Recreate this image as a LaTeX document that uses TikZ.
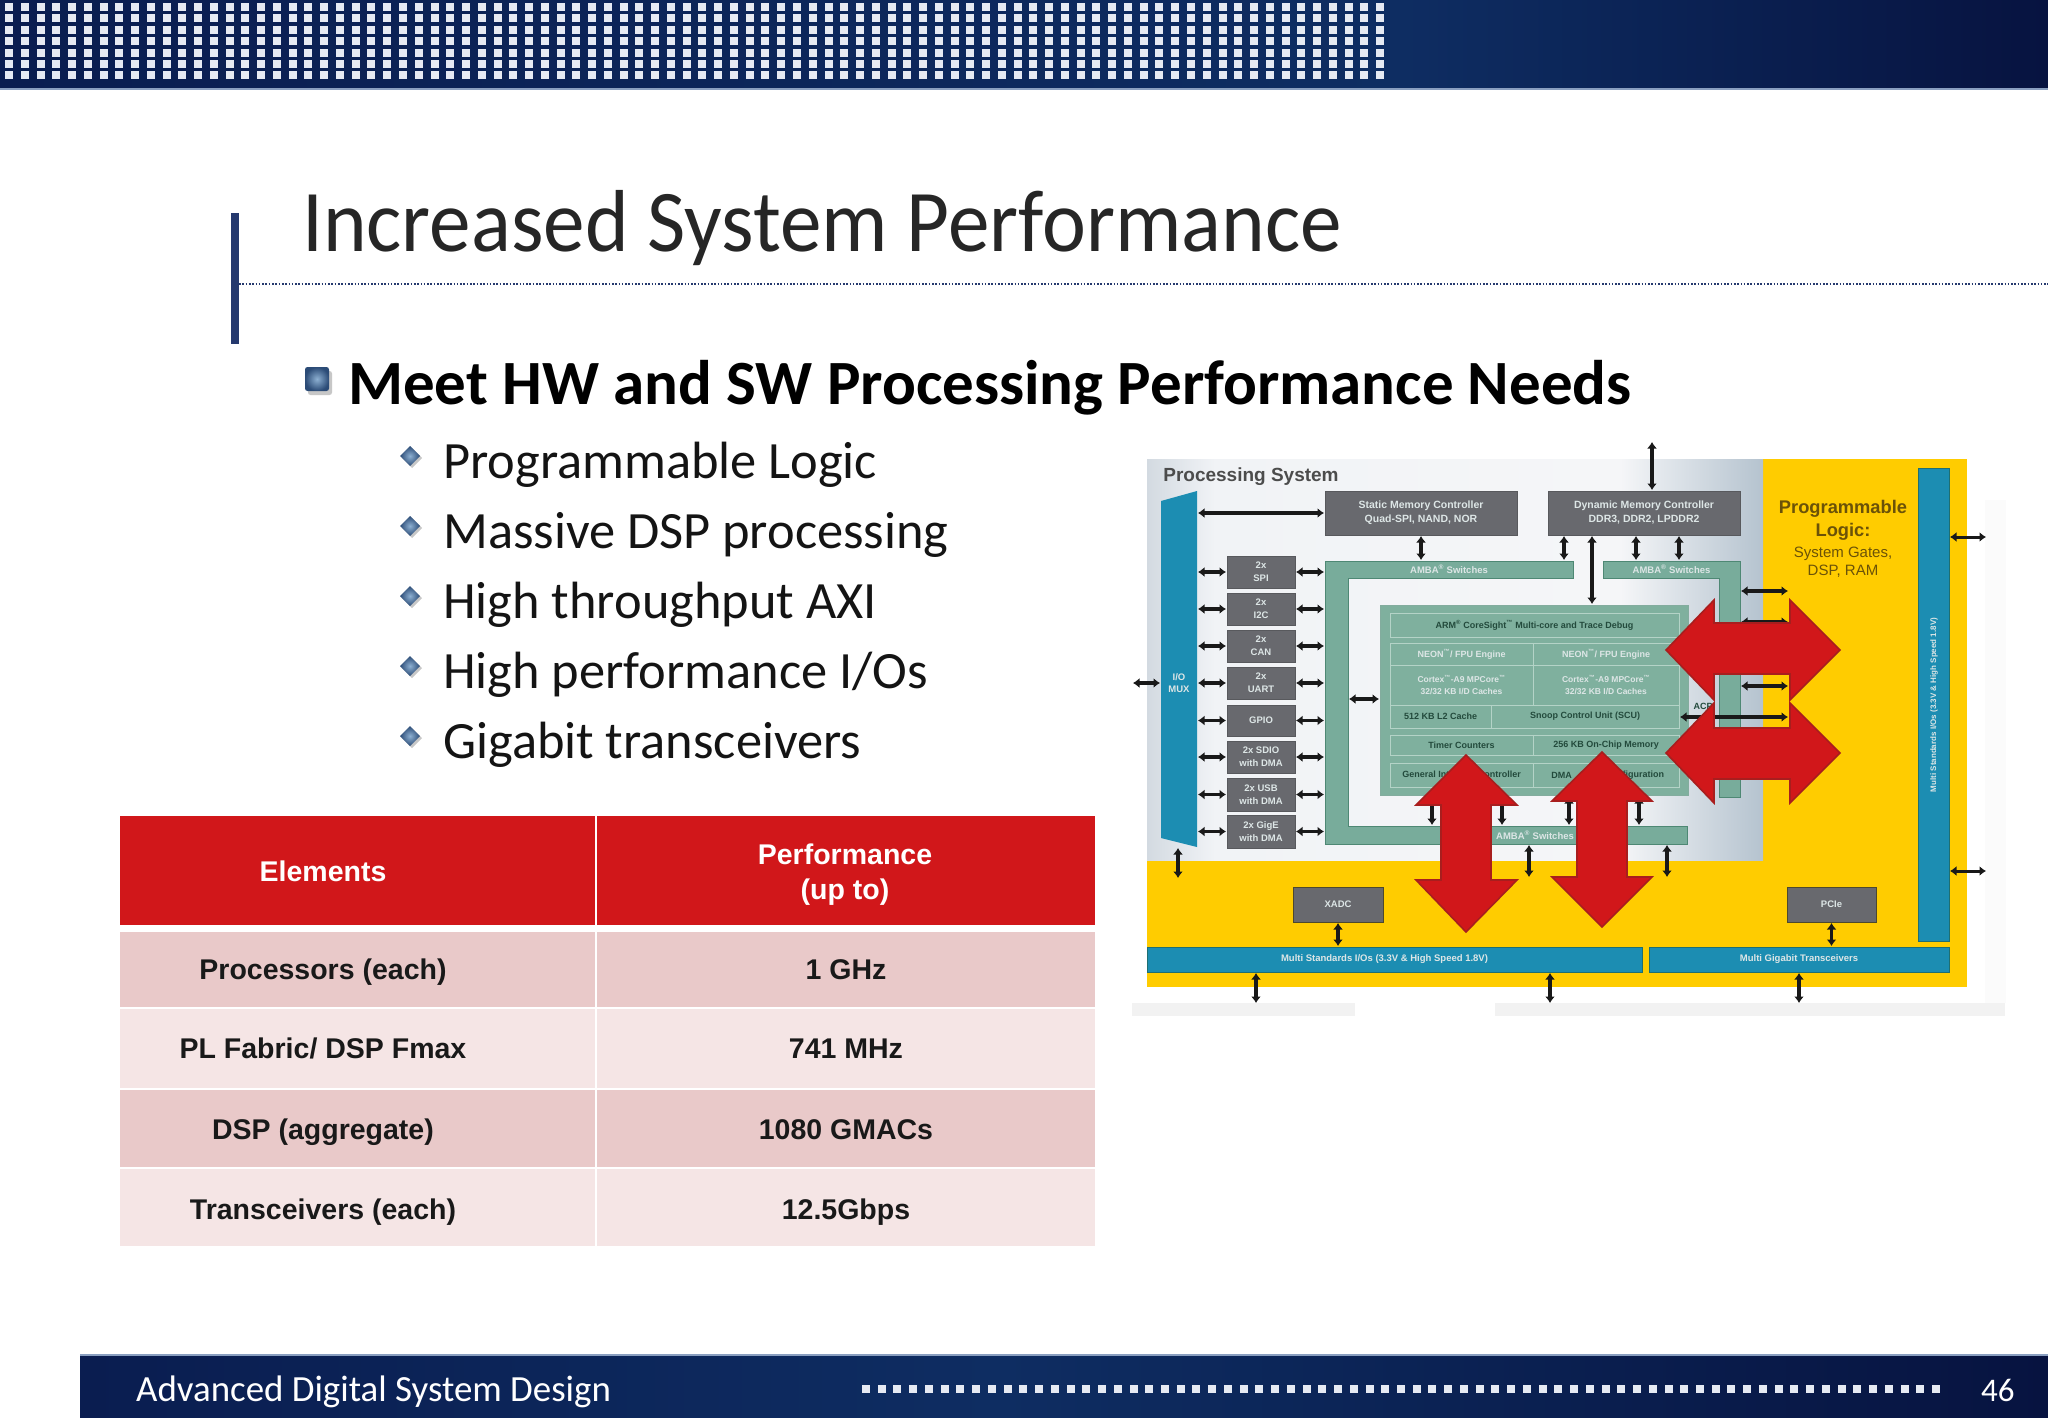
\documentclass[tikz,border=0pt]{standalone}
\usepackage{fontspec}
\setmainfont{Carlito}
\newfontfamily\libsans{Liberation Sans}
\newfontfamily\titlef[FakeStretch=0.945]{Carlito}
\usetikzlibrary{arrows.meta}
\definecolor{bandA}{HTML}{0A1D50}
\definecolor{bandB}{HTML}{0E2D62}
\definecolor{bandC}{HTML}{071340}
\definecolor{dotc}{HTML}{E6EAF3}
\definecolor{navy}{HTML}{25396E}
\definecolor{tred}{HTML}{D1171A}
\definecolor{rowA}{HTML}{E9C9C9}
\definecolor{rowB}{HTML}{F5E5E5}
\definecolor{gold}{HTML}{FFCC00}
\definecolor{teal}{HTML}{1C8DB2}
\definecolor{tealedge}{HTML}{1F6F72}
\definecolor{boxgrey}{HTML}{68696E}
\definecolor{frameg}{HTML}{78AC9B}
\definecolor{frameedge}{HTML}{4E8874}
\definecolor{cpug}{HTML}{7FB09E}
\definecolor{cpuline}{HTML}{B4D3C7}
\definecolor{softw}{HTML}{DDE6E6}
\definecolor{darkt}{HTML}{234A3C}
\definecolor{redge}{HTML}{A81E1E}
\definecolor{brownt}{HTML}{6B5208}
\definecolor{psedge}{HTML}{D3DAE1}
\definecolor{psmid}{HTML}{F1F3F6}
\definecolor{psmidb}{HTML}{F5F6F8}
\definecolor{psright}{HTML}{B5C3CF}
\definecolor{bulout}{HTML}{2B4B76}
\definecolor{bulin}{HTML}{8DB0D2}
\definecolor{bandline}{HTML}{8A9FC0}
\newcommand{\pxbox}[7]{%
  \pgfmathsetmacro{\pxw}{#4-#2}\pgfmathsetmacro{\pxh}{#5-#3}%
  \pgfmathsetmacro{\pxcx}{(#2+#4)/2}\pgfmathsetmacro{\pxcy}{(#3+#5)/2}%
  \node[#6,minimum width=\pxw pt,minimum height=\pxh pt] (#1) at (\pxcx,\pxcy) {#7};}
\newcommand{\fsz}[1]{\fontsize{#1}{#1}\selectfont}
\tikzset{
  bx/.style={inner sep=0pt,outer sep=0pt,align=center},
  greybox/.style={bx,fill=boxgrey,draw=boxgrey!85!black,line width=0.8pt,text=softw,font=\libsans\bfseries\fontsize{9.5}{13}\selectfont},
  tealbar/.style={bx,fill=teal,draw=tealedge,line width=1pt,text=softw,font=\libsans\bfseries\fontsize{9.5}{12}\selectfont},
  cpucell/.style={bx,fill=cpug,draw=cpuline,line width=1pt,font=\libsans\bfseries\fontsize{9}{11}\selectfont},
  cpulight/.style={cpucell,text=softw},
  cpudark/.style={cpucell,text=darkt},
  ghost/.style={bx},
  barr/.style={line width=3.6pt,black!90,{Latex[length=6.5pt,width=10pt]}-{Latex[length=6.5pt,width=10pt]},shorten >=1pt,shorten <=1pt},
  barrthin/.style={barr,line width=3pt},
  redarrow/.style={fill=tred,draw=redge,line width=1.6pt,line join=miter},
  thead/.style={bx,fill=tred,text=white,font=\libsans\bfseries\fontsize{28.5}{35}\selectfont},
  trowa/.style={bx,fill=rowA,text=black!90,font=\libsans\bfseries\fontsize{28.5}{35}\selectfont},
  trowb/.style={bx,fill=rowB,text=black!90,font=\libsans\bfseries\fontsize{28.5}{35}\selectfont},
  ctext/.style={inner sep=0pt,font=\libsans\bfseries\fontsize{28.5}{35}\selectfont,text=black!90},
  sublabel/.style={anchor=base west,inner sep=0pt,font=\fontsize{52.4}{60}\selectfont,text=black!92},
  pslabel/.style={inner sep=0pt,align=center}
}
\begin{document}
\begin{tikzpicture}[x=1pt,y=-1pt]
\useasboundingbox (0,0) rectangle (2048,1418);
\fill[white] (0,0) rectangle (2048,1418);

% top band
\shade[left color=bandA,right color=bandB] (0,0) rectangle (1400,88);
\shade[left color=bandB,right color=bandC] (1400,0) rectangle (2048,88);
\fill[bandline] (0,88) rectangle (2048,90);
\foreach \row in {7,18.5,30,41.5,53,64,75.5}
  \foreach \k in {0,...,87}
    \fill[dotc] ({9+15.76*\k-4},\row-4) rectangle ({9+15.76*\k+4},\row+4);

% title
\fill[navy] (231,213) rectangle (239,344);
\draw[navy,line width=1.4pt,dash pattern=on 1.6pt off 1.7pt] (239,284) -- (2048,284);
\node[anchor=base west,inner sep=0pt,font=\titlef\fsz{88},text=black!85] (title) at (302,251) {Increased System Performance};

% main bullet
\fill[black!22,rounded corners=2.5pt] (308,371) rectangle (332,395);
\shade[inner color=bulin,outer color=bulout,rounded corners=2.5pt] (305,367) rectangle (329,391);
\node[anchor=base west,inner sep=0pt,font=\bfseries\fsz{63},text=black] (head) at (348,404.5) {Meet HW and SW Processing Performance Needs};

% sub bullets
\foreach \yb/\txt in {478/{Programmable Logic},548/{Massive DSP processing},618/{High throughput AXI},688/{High performance I/Os},758/{Gigabit transceivers}}{
  \fill[black!22] (412,\yb-22+2-10) -- (422,\yb-22+2) -- (412,\yb-22+2+10) -- (402,\yb-22+2) -- cycle;
  \shade[inner color=bulin,outer color=bulout] (410,\yb-22-10) -- (420,\yb-22) -- (410,\yb-22+10) -- (400,\yb-22) -- cycle;
  \node[sublabel] at (443,\yb) {\txt};
}

% table
\pxbox{th1}{120}{816}{595}{925}{thead}{}
\pxbox{th2}{597}{816}{1095}{925}{thead}{}
\pxbox{r1a}{120}{932}{595}{1007}{trowa}{}
\pxbox{r1b}{597}{932}{1095}{1007}{trowa}{}
\pxbox{r2a}{120}{1009}{595}{1088}{trowb}{}
\pxbox{r2b}{597}{1009}{1095}{1088}{trowb}{}
\pxbox{r3a}{120}{1090}{595}{1167}{trowa}{}
\pxbox{r3b}{597}{1090}{1095}{1167}{trowa}{}
\pxbox{r4a}{120}{1169}{595}{1246}{trowb}{}
\pxbox{r4b}{597}{1169}{1095}{1246}{trowb}{}
\node[ctext,text=white,anchor=base] (th1t) at (323,881) {Elements};
\node[ctext,text=white,anchor=base,align=center] (th2t) at (845,899) {Performance\\(up to)};
\foreach \nm/\yb/\ta/\tb in {r1/979/{Processors (each)}/{1 GHz},r2/1058/{PL Fabric/ DSP Fmax}/{741 MHz},r3/1139/{DSP (aggregate)}/{1080 GMACs},r4/1219/{Transceivers (each)}/{12.5Gbps}}{
  \node[ctext,anchor=base] at (323,\yb) {\ta};
  \node[ctext,anchor=base] at (846,\yb) {\tb};
}

% bottom band
\shade[left color=bandA,right color=bandB] (80,1354) rectangle (1000,1418);
\shade[left color=bandB,right color=bandC] (1000,1354) rectangle (2048,1418);
\fill[bandline] (80,1354) rectangle (2048,1355.5);
\foreach \k in {0,...,68}
  \fill[dotc] ({866+15.735*\k-4},1385) rectangle ({866+15.735*\k+4},1393);
\node[anchor=base west,inner sep=0pt,font=\fsz{36.9},text=white] (foot) at (136,1401) {Advanced Digital System Design};
\node[anchor=base west,inner sep=0pt,font=\fsz{33},text=white] (pageno) at (1981,1401) {46};

% ---- figure ----
\fill[black!5] (1132,1003) rectangle (1355,1016);
\fill[black!5] (1495,1003) rectangle (2005,1016);
\fill[black!1.5] (1985,500) rectangle (2006,1003);
\fill[gold] (1147,459) rectangle (1967,987);
\shade[left color=psedge,right color=psmid] (1147,459) rectangle (1215,860);
\shade[left color=psmid,right color=psmidb] (1215,459) rectangle (1620,860);
\shade[left color=psmidb,right color=psright] (1620,459) rectangle (1763,860);

\node[pslabel,font=\libsans\bfseries\fsz{19},text=black!70] (pstitle) at (1251,477) {Processing System};
\node[pslabel,font=\libsans\bfseries\fontsize{18.3}{23}\selectfont,text=brownt] (pltitle) at (1843,520) {Programmable\\Logic:};
\node[pslabel,font=\libsans\fontsize{15}{18}\selectfont,text=brownt] (plsub) at (1843,562) {System Gates,\\DSP, RAM};

% I/O mux
\fill[teal] (1161,501) -- (1197,491) -- (1197,847) -- (1161,838) -- cycle;
\pxbox{mux}{1161}{491}{1197}{847}{ghost}{}
\node[pslabel,font=\libsans\bfseries\fontsize{9.5}{12}\selectfont,text=softw] (muxt) at (1179,683) {I/O\\MUX};

% memory controllers
\pxbox{smc}{1325}{491}{1517}{535}{greybox,font=\libsans\bfseries\fontsize{10.5}{14}\selectfont}{Static Memory Controller\\Quad-SPI, NAND, NOR}
\pxbox{dmc}{1548}{491}{1740}{535}{greybox,font=\libsans\bfseries\fontsize{10.5}{14}\selectfont}{Dynamic Memory Controller\\DDR3, DDR2, LPDDR2}

% peripheral boxes
\pxbox{b1}{1227}{556}{1295}{588}{greybox}{2x\\SPI}
\pxbox{b2}{1227}{593}{1295}{625}{greybox}{2x\\I2C}
\pxbox{b3}{1227}{630}{1295}{662}{greybox}{2x\\CAN}
\pxbox{b4}{1227}{667}{1295}{699}{greybox}{2x\\UART}
\pxbox{b5}{1227}{705}{1295}{736}{greybox}{GPIO}
\pxbox{b6}{1227}{741}{1295}{773}{greybox}{2x SDIO\\with DMA}
\pxbox{b7}{1227}{778}{1295}{811}{greybox}{2x USB\\with DMA}
\pxbox{b8}{1227}{815}{1295}{848}{greybox}{2x GigE\\with DMA}

% AMBA switches
\draw[fill=frameg,draw=frameedge,line width=1pt] (1325,561) -- (1573,561) -- (1573,578) -- (1348,578) -- (1348,826) -- (1687,826) -- (1687,844) -- (1325,844) -- cycle;
\draw[fill=frameg,draw=frameedge,line width=1pt] (1603,561) -- (1740,561) -- (1740,797) -- (1719,797) -- (1719,578) -- (1603,578) -- cycle;
\pxbox{axit}{1325}{561}{1573}{578}{ghost,text=softw,font=\libsans\bfseries\fontsize{9.5}{12}\selectfont}{AMBA\textsuperscript{®} Switches}
\pxbox{axit2}{1603}{561}{1740}{578}{ghost,text=softw,font=\libsans\bfseries\fontsize{9.5}{12}\selectfont}{AMBA\textsuperscript{®} Switches}
\pxbox{axib}{1325}{826}{1687}{844}{ghost}{}
\node[inner sep=0pt,text=softw,font=\libsans\bfseries\fontsize{9.5}{12}\selectfont] (axibt) at (1535,835) {AMBA\textsuperscript{®} Switches};
\pxbox{axil}{1325}{561}{1348}{844}{ghost}{}
\pxbox{axir}{1719}{561}{1740}{797}{ghost}{}

% CPU block
\pxbox{cpu}{1380}{605}{1688}{795}{bx,fill=cpug,draw=frameedge!70,line width=1pt}{}
\pxbox{csight}{1390}{613}{1679}{637}{cpudark}{ARM\textsuperscript{®} CoreSight\textsuperscript{™} Multi-core and Trace Debug}
\pxbox{neon1}{1390}{643}{1533}{665}{cpulight}{NEON\textsuperscript{™}/ FPU Engine}
\pxbox{neon2}{1533}{643}{1679}{665}{cpulight}{NEON\textsuperscript{™}/ FPU Engine}
\pxbox{core1}{1390}{665}{1533}{705}{cpulight,font=\libsans\bfseries\fontsize{8.5}{12}\selectfont}{Cortex\textsuperscript{™}-A9 MPCore\textsuperscript{™}\\32/32 KB I/D Caches}
\pxbox{core2}{1533}{665}{1679}{705}{cpulight,font=\libsans\bfseries\fontsize{8.5}{12}\selectfont}{Cortex\textsuperscript{™}-A9 MPCore\textsuperscript{™}\\32/32 KB I/D Caches}
\pxbox{ltwo}{1390}{705}{1491}{728}{cpudark}{512 KB L2 Cache}
\pxbox{scu}{1491}{705}{1679}{728}{cpudark}{Snoop Control Unit (SCU)}
\pxbox{timer}{1390}{735}{1533}{755}{cpudark}{Timer Counters}
\pxbox{ocm}{1533}{735}{1679}{755}{cpudark}{256 KB On-Chip Memory}
\pxbox{gic}{1390}{763}{1533}{787}{cpudark}{General Interrupt Controller}
\pxbox{dma}{1533}{763}{1590}{787}{cpudark}{DMA}
\pxbox{cfg}{1590}{763}{1679}{787}{cpudark}{Configuration}

% PL blocks
\pxbox{xadc}{1293}{887}{1383}{922}{greybox,draw=black!60!olive}{XADC}
\pxbox{pcie}{1787}{887}{1876}{922}{greybox,draw=black!60!olive}{PCIe}
\pxbox{mio}{1147}{947}{1642}{972}{tealbar}{\hspace*{-20pt}Multi Standards I/Os (3.3V \& High Speed 1.8V)}
\pxbox{mgt}{1649}{947}{1949}{972}{tealbar}{Multi Gigabit Transceivers}
\pxbox{rbar}{1918}{468}{1949}{941}{bx,fill=teal,draw=tealedge,line width=1pt}{}
\node[rotate=90,inner sep=0pt,font=\libsans\bfseries\fontsize{8}{10}\selectfont,text=softw] (rbart) at (1934,705) {Multi Standards I/Os (3.3V \& High Speed 1.8V)};
\node[inner sep=0pt,font=\libsans\bfseries\fontsize{9}{10}\selectfont,text=darkt] (acp) at (1703,706) {ACP};

% free ends
\coordinate (muxin) at (1132,683);
\coordinate (cpuport) at (1380,699);
\coordinate (va) at (1421,561);
\coordinate (vb) at (1564,561);
\coordinate (vc) at (1592,605);
\coordinate (vd) at (1636,561);
\coordinate (ve) at (1679,561);
\coordinate (top) at (1652,441);
\coordinate (pl1) at (1789,591);
\coordinate (pl2) at (1789,622);
\coordinate (pl3) at (1789,686);
\coordinate (pl4) at (1789,717);
\coordinate (edge1) at (1987,537);
\coordinate (edge2) at (1987,871);
\coordinate (c1) at (1432,796);
\coordinate (c2) at (1502,796);
\coordinate (c3) at (1569,796);
\coordinate (c4) at (1639,796);
\coordinate (d1) at (1529,878);
\coordinate (d2) at (1667,878);
\coordinate (e1) at (1178,879);
\coordinate (f1) at (1256,1004);
\coordinate (f2) at (1550,1004);
\coordinate (f3) at (1799,1004);

% connectors
\foreach \i in {1,...,8}{
  \draw[barr] (mux.east |- b\i.west) -- (b\i.west);
  \draw[barr] (b\i.east) -- (axil.west |- b\i.east);
}
\draw[barr] (muxin) -- (mux.west |- muxin);
\draw[barr] (mux.east |- smc.west) -- (smc.west);
\draw[barr] (axil.east |- cpuport) -- (cpuport);
\draw[barr] (va |- smc.south) -- (va);
\draw[barr] (vb |- smc.south) -- (vb);
\draw[barr] (vc |- dmc.south) -- (vc);
\draw[barr] (vd |- dmc.south) -- (vd);
\draw[barr] (ve |- dmc.south) -- (ve);
\draw[barr] (top) -- (top |- dmc.north);
\draw[barr] (axir.east |- pl1) -- (pl1);
\draw[barr] (axir.east |- pl2) -- (pl2);
\draw[barr] (axir.east |- pl3) -- (pl3);
\draw[barr] (scu.east |- pl4) -- (pl4);
\draw[barrthin] (rbar.east |- edge1) -- (edge1);
\draw[barrthin] (rbar.east |- edge2) -- (edge2);
\foreach \c in {c1,c2,c3,c4}
  \draw[barr] (\c) -- (\c |- axib.north);
\draw[barr] (d1 |- axib.south) -- (d1);
\draw[barr] (d2 |- axib.south) -- (d2);
\draw[barr] (e1 |- mux.south) -- (e1);
\draw[barr] (xadc.south) -- (xadc.south |- mio.north);
\draw[barr] (pcie.south) -- (pcie.south |- mgt.north);
\draw[barr] (f1 |- mio.south) -- (f1);
\draw[barr] (f2 |- mio.south) -- (f2);
\draw[barr] (f3 |- mgt.south) -- (f3);

% red arrows
\draw[redarrow] (1666,650) -- (1714,600) -- (1714,623) -- (1790,623) -- (1790,600) -- (1840,650) -- (1790,700) -- (1790,674) -- (1714,674) -- (1714,700) -- cycle;
\draw[redarrow] (1666,753) -- (1714,703) -- (1714,728) -- (1790,728) -- (1790,703) -- (1840,753) -- (1790,803) -- (1790,779) -- (1714,779) -- (1714,803) -- cycle;
\draw[redarrow] (1466,755) -- (1517,805) -- (1491,805) -- (1491,880) -- (1517,880) -- (1466,932) -- (1416,880) -- (1441,880) -- (1441,805) -- (1416,805) -- cycle;
\draw[redarrow] (1602,752) -- (1652,801) -- (1627,801) -- (1627,877) -- (1652,877) -- (1602,927) -- (1552,877) -- (1577,877) -- (1577,801) -- (1552,801) -- cycle;
\end{tikzpicture}
\end{document}
